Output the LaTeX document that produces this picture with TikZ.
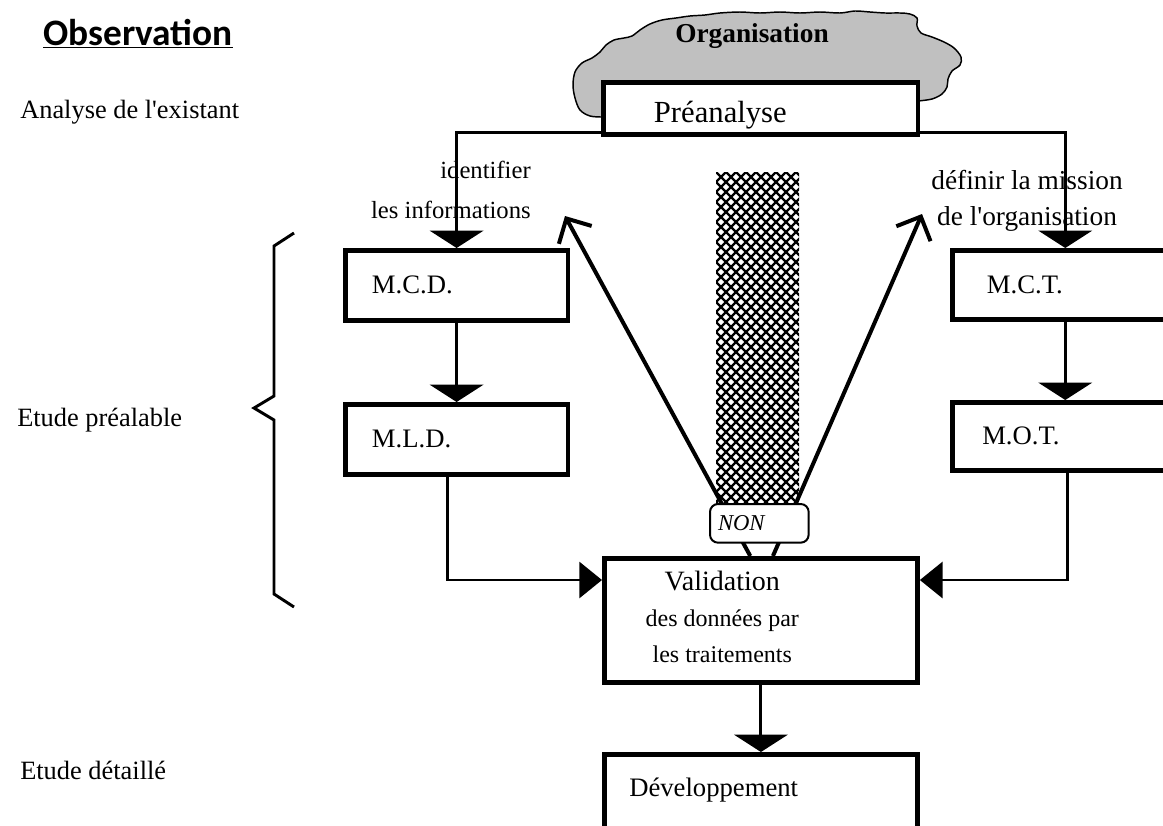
\documentclass[tikz,border=0pt]{standalone}
\usepackage{fontspec}
\setmainfont{Liberation Serif}
\newfontfamily\calibri{Carlito}
\usetikzlibrary{arrows.meta,calc}
\definecolor{cloudgray}{RGB}{192,192,192}
\tikzset{
  box/.style={draw=black, line width=3.4pt, fill=white, inner ysep=0pt, anchor=north west, font=\fontsize{20}{24}\selectfont},
  conn/.style={line width=2.2pt},
  downarrow/.style={conn, -{Triangle[length=13pt,width=40pt]}},
  sidearrow/.style={conn, -{Triangle[length=17pt,width=27pt]}},
  backarrow/.style={line width=3pt, -{Straight Barb[length=14pt,width=28pt]}},
  sidelabel/.style={anchor=base west, font=\fontsize{19.8}{23}\selectfont, inner sep=0pt},
  hatchline/.style={line width=1.7pt, black},
  cloud/.style={draw=black, line width=1.1pt, fill=cloudgray},
}
\begin{document}
\begin{tikzpicture}[x=0.75pt,y=-0.75pt]
\path[use as bounding box] (0,0) rectangle (1163,825);
\clip (0,0) rectangle (1163,825);

% cloud
\draw[cloud] plot[smooth, tension=0.55] coordinates {(602,117) (590,116) (580,110) (575,98) (573,85) (575,72) (582,63) (592,58) (600,52) (606,45) (614,40) (624,38) (632,36) (640,30) (650,24) (662,20) (676,18) (690,16) (705,15) (720,13) (740,12) (760,13) (780,12) (800,13) (820,12) (840,13) (855,11) (870,12) (885,13) (900,13) (910,14) (917,18) (917,26) (921,33) (932,37) (944,42) (954,48) (961,57) (960,65) (952,71) (948,79) (947,87) (942,94) (932,99) (918,101)} -- (900,110) -- (620,110) -- cycle;
\node[font=\bfseries\fontsize{20.5}{24}\selectfont, inner sep=0pt] (org) at (752,36) {Organisation};

% boxes
\node[box, inner xsep=38pt, text width=160pt, align=left, text height=30pt, text depth=9pt, font=\fontsize{23}{27}\selectfont] (pre) at (601,80) {Préanalyse};
\node[box, inner xsep=20pt, text width=127pt, align=left, minimum height=52.5pt] (mcd) at (343,248) {M.C.D.};
\node[box, inner xsep=20pt, text width=127pt, align=left, minimum height=52.5pt] (mld) at (343,402) {M.L.D.};
\node[box, inner xsep=26pt, text width=117.5pt, align=left, minimum height=51.75pt] (mct) at (950,248) {M.C.T.};
\node[box, inner xsep=22.5pt, text width=124.5pt, align=left, minimum height=51pt] (mot) at (950,400) {M.O.T.};
\node[box, inner xsep=0pt, minimum width=235pt, minimum height=93pt, font=\fontsize{18}{22}\selectfont] (val) at (602,556)
  {\begin{tabular}{@{}c@{}}{\fontsize{21}{25}\selectfont Validation}\\[5pt] des données par\\[5pt] les traitements\end{tabular}\hspace*{58pt}};
\node[box, inner xsep=18.75pt, inner ysep=12pt, text width=197.5pt, align=left, text height=20pt, text depth=80pt] (dev) at (602,752) {Développement};

% side labels
\node[sidelabel, font=\calibri\bfseries\fontsize{28}{32}\selectfont] (obs) at (43,45) {\underline{Observation}};
\node[sidelabel] (ana) at (20,118) {Analyse de l\textquotesingle existant};
\node[sidelabel] (etp) at (17,426) {Etude préalable};
\node[sidelabel] (etd) at (20,779) {Etude détaillé};

% connector labels
\node[anchor=east, align=right, inner sep=0pt, font=\fontsize{18.5}{30}\selectfont] (idf) at (531,190) {identifier\\les informations};
\node[align=center, inner sep=0pt, font=\fontsize{20.5}{27}\selectfont] (def) at (1027,201) {définir la mission\\de l\textquotesingle organisation};

% brace
\draw[line width=2.2pt, line join=miter] (294,233) -- (274,246) -- (274,396) -- (254,408) -- (274,420) -- (274,594) -- (294,607);

% hatched column
\begin{scope}
\clip (716,172) rectangle (799,515);
\fill[white] (716,172) rectangle (799,515);
\foreach \i in {0,...,45} {
  \draw[hatchline] ({366+\i*10},172) -- ++(360,360);
  \draw[hatchline] ({716+\i*10},172) -- ++(-360,360);
}
\end{scope}

% back arrows
\coordinate (tl) at (565,216);
\coordinate (tr) at (922,214);
\draw[backarrow] ([xshift=-8pt]val.north) -- (tl);
\draw[backarrow] ([xshift=9pt]val.north) -- (tr);

\node[draw, line width=1.5pt, rounded corners=6pt, fill=white, anchor=north west, minimum width=74pt, minimum height=29pt, inner xsep=6pt, inner ysep=0pt, text width=62pt, align=left, font=\itshape\fontsize{17}{20}\selectfont] (non) at (709,503) {NON};

% connectors
\draw[downarrow] ([yshift=3pt]pre.south west) -| (mcd.north);
\draw[downarrow] ([yshift=3pt]pre.south east) -| (mct.north);
\draw[downarrow] (mcd.south) -- (mld.north);
\draw[downarrow] (mct.south) -- (mot.north);
\draw[sidearrow] ([xshift=-7pt]mld.south) |- ([yshift=-18pt]val.north west);
\draw[sidearrow] ([xshift=1.5pt]mot.south) |- ([yshift=-18pt]val.north east);
\draw[downarrow] (val.south) -- (dev.north);
\end{tikzpicture}
\end{document}
